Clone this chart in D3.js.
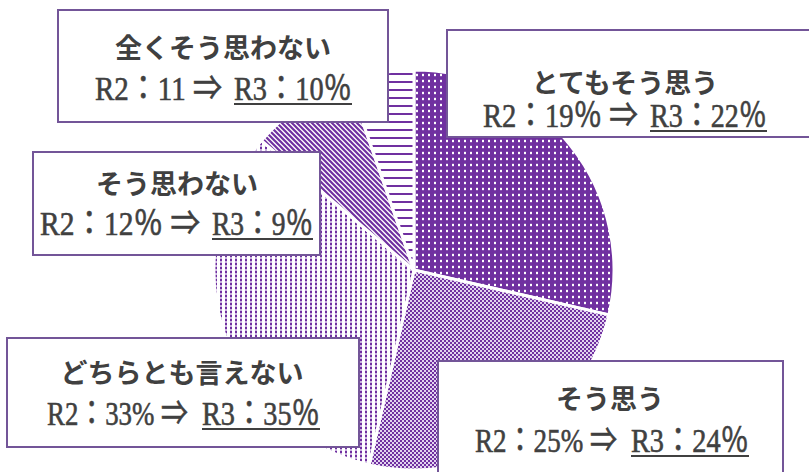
<!DOCTYPE html>
<html>
<head>
<meta charset="utf-8">
<script src="https://cdn.jsdelivr.net/npm/d3@7"></script>
<style>
  html, body { margin: 0; padding: 0; background: #ffffff; }
  svg { display: block; }
</style>
</head>
<body>
<script>
// ---- data ----
const categories = ["とてもそう思う", "そう思う", "どちらとも言えない", "そう思わない", "全くそう思わない"];
const r2Labels   = ["19％", "25%", "33%", "12％", "11"];
const r3Labels   = ["22％", "24％", "35％", "9％", "10％"];
// slice sizes as drawn in the picture (percent of the circle)
const pieValues  = [28.6, 25.0, 32.6, 8.5, 5.3];

// ---- layout (kept apart from the data) ----
const W = 809, H = 472;
const center = [414, 270], radius = 200;
// box rect, title centre, baseline of line 2, and x extents of its two parts
const boxes = [
  {x: 447, y: 30,  w: 370, h: 107, cx: 625, ty: 81,  by: 127, l0: 483, l1: 638, r0: 650, r1: 767},
  {x: 438, y: 361, w: 345, h: 120, cx: 610, ty: 397, by: 452, l0: 475, l1: 617, r0: 631, r1: 749},
  {x: 7,   y: 338, w: 352, h: 109, cx: 182, ty: 371, by: 425, l0: 47,  l1: 188, r0: 202, r1: 320},
  {x: 33,  y: 152, w: 287, h: 103, cx: 177, ty: 182, by: 235, l0: 40,  l1: 200, r0: 212, r1: 313},
  {x: 58,  y: 10,  w: 330, h: 112, cx: 223, ty: 46,  by: 100, l0: 95,  l1: 222, r0: 234, r1: 352}
];
const purple = "#7030a0";
const textCol = "#404040";

const svg = d3.select("body").append("svg").attr("width", W).attr("height", H);
const defs = svg.append("defs");

// pattern 0: white dots on dark purple
const p0 = defs.append("pattern").attr("id", "p0").attr("patternUnits", "userSpaceOnUse")
  .attr("width", 6).attr("height", 6);
p0.append("rect").attr("width", 6).attr("height", 6).attr("fill", purple);
p0.append("rect").attr("x", 2).attr("y", 2).attr("width", 2).attr("height", 2).attr("fill", "#ffffff");
p0.append("rect").attr("x", 2).attr("y", 1.5).attr("width", 2).attr("height", 3).attr("fill", "#ffffff").attr("opacity", 0.35);

// pattern 1: checker
const p1 = defs.append("pattern").attr("id", "p1").attr("patternUnits", "userSpaceOnUse")
  .attr("width", 4).attr("height", 4);
p1.append("rect").attr("width", 4).attr("height", 4).attr("fill", "#e2d3ef");
p1.append("rect").attr("x", 0).attr("y", 0).attr("width", 2).attr("height", 2).attr("fill", purple);
p1.append("rect").attr("x", 2).attr("y", 2).attr("width", 2).attr("height", 2).attr("fill", purple);

// pattern 2: small dots
const p2 = defs.append("pattern").attr("id", "p2").attr("patternUnits", "userSpaceOnUse")
  .attr("width", 5).attr("height", 4);
p2.append("rect").attr("width", 5).attr("height", 4).attr("fill", "#ffffff");
p2.append("rect").attr("x", 1).attr("y", 0).attr("width", 2).attr("height", 4).attr("fill", "#c9b2de");
p2.append("rect").attr("x", 1).attr("y", 1).attr("width", 2).attr("height", 2).attr("fill", purple);

// pattern 3: diagonal stripes "\"
const p3 = defs.append("pattern").attr("id", "p3").attr("patternUnits", "userSpaceOnUse")
  .attr("width", 5).attr("height", 5);
p3.append("rect").attr("width", 5).attr("height", 5).attr("fill", "#ffffff");
p3.append("path").attr("d", "M-1,-1 L6,6 M-1,4 L1,6 M4,-1 L6,1")
  .attr("stroke", purple).attr("stroke-width", 2.2);

// pattern 4: horizontal lines
const p4 = defs.append("pattern").attr("id", "p4").attr("patternUnits", "userSpaceOnUse")
  .attr("width", 8).attr("height", 8);
p4.append("rect").attr("width", 8).attr("height", 8).attr("fill", "#ffffff");
p4.append("rect").attr("x", 0).attr("y", 3).attr("width", 8).attr("height", 2).attr("fill", purple);

const fills = ["url(#p0)", "url(#p1)", "url(#p2)", "url(#p3)", "url(#p4)"];

// ---- pie ----
const pie = d3.pie().sort(null).value(d => d).startAngle(0).endAngle(2 * Math.PI);
const arc = d3.arc().innerRadius(0).outerRadius(radius);
const g = svg.append("g").attr("transform", `translate(${center[0]},${center[1]})`);
g.selectAll("path.slice").data(pie(pieValues)).join("path")
  .attr("class", "slice")
  .attr("d", arc)
  .attr("fill", (d, i) => fills[i])
  .attr("stroke", "#ffffff")
  .attr("stroke-width", 3)
  .attr("stroke-linejoin", "miter");

// ---- label boxes ----
const lab = svg.selectAll("g.lab").data(categories).join("g").attr("class", "lab");
lab.append("rect")
  .attr("x", (d, i) => boxes[i].x).attr("y", (d, i) => boxes[i].y)
  .attr("width", (d, i) => boxes[i].w).attr("height", (d, i) => boxes[i].h)
  .attr("fill", "#ffffff").attr("stroke", "#735598").attr("stroke-width", 2);
lab.append("text")
  .attr("x", (d, i) => boxes[i].cx).attr("y", (d, i) => boxes[i].ty)
  .attr("text-anchor", "middle").attr("dominant-baseline", "central")
  .attr("font-family", "'Noto Sans CJK JP', sans-serif").attr("font-weight", 700)
  .attr("font-size", 27).attr("fill", textCol)
  .text(d => d);

const serif = "'Liberation Serif', 'Noto Sans CJK JP', serif";
// fit a text horizontally into [x0, x1] by condensing it (tall, narrow figures as in the picture)
function fitText(sel, x0, x1) {
  sel.each(function(d, i) {
    const len = this.getComputedTextLength();
    const a = x0(i), b = x1(i);
    const sx = (b - a) / len;
    d3.select(this).attr("transform", `translate(${a},${boxes[i].by}) scale(${sx},1)`);
  });
}
// left part: R2 value and arrow
const left = lab.append("text")
  .attr("x", 0).attr("y", 0)
  .attr("font-family", serif).attr("font-size", 34)
  .attr("fill", textCol).attr("stroke", textCol).attr("stroke-width", 0.6)
  .text((d, i) => `R2：${r2Labels[i]} ⇒`);
fitText(left, i => boxes[i].l0, i => boxes[i].l1);
// right part: R3 value, underlined
const right = lab.append("text")
  .attr("x", 0).attr("y", 0)
  .attr("font-family", serif).attr("font-size", 34)
  .attr("fill", textCol).attr("stroke", textCol).attr("stroke-width", 0.6)
  .text((d, i) => `R3：${r3Labels[i]}`);
fitText(right, i => boxes[i].r0, i => boxes[i].r1);
lab.append("line")
  .attr("x1", (d, i) => boxes[i].r0).attr("x2", (d, i) => boxes[i].r1)
  .attr("y1", (d, i) => boxes[i].by + 4).attr("y2", (d, i) => boxes[i].by + 4)
  .attr("stroke", textCol).attr("stroke-width", 2);
</script>
</body>
</html>
